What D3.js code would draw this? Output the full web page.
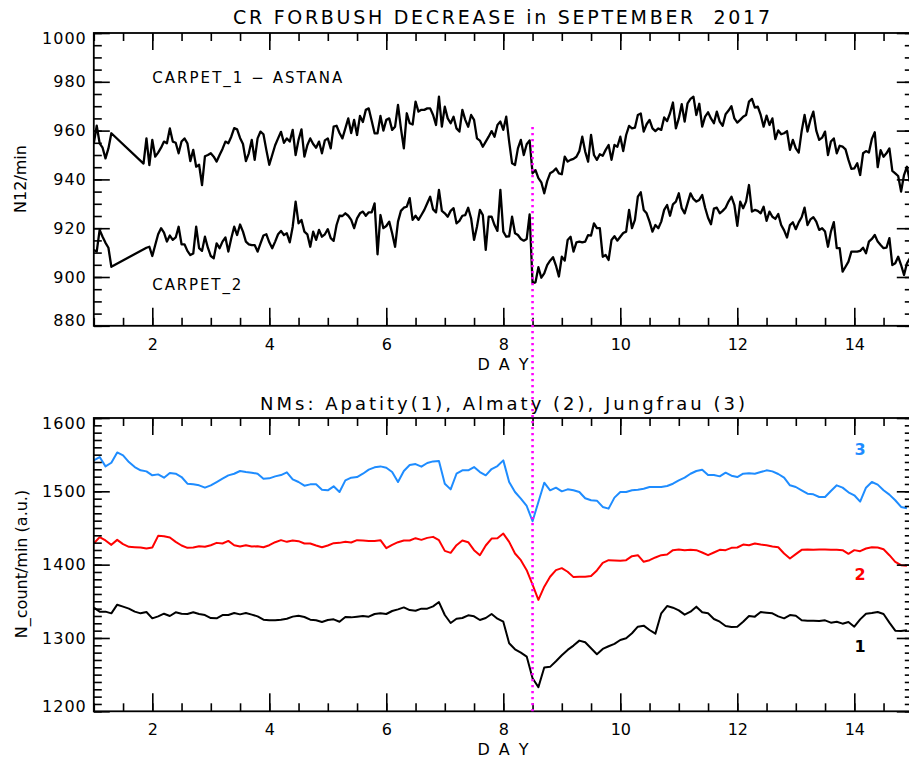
<!DOCTYPE html>
<html>
<head>
<meta charset="utf-8">
<script src="https://cdn.jsdelivr.net/npm/d3@7"></script>
<style>
  body { margin: 0; background: #fff; }
  svg text { font-family: "DejaVu Sans", sans-serif; fill: #000; }
</style>
</head>
<body>
<div id="chart"></div>
<script>
/**
 * DATA
 * carpet series: one value every 0.05 day from day 1.0, null = no data
 * NM series: one value every 0.1 day from day 1.0
 * */
const startDay = 1;
const carpetStep = 0.05;
const nmStep = 0.1;

const carpet1 = [
  954.8,962,954.8,953,948.6,952.7,958.9,null,null,null,
  null,null,null,null,null,null,null,946.5,956.8,945.9,
  956.2,949.3,951,953,955.5,954.8,960.9,955.5,955,950.7,
  955.5,956.8,954.8,947.5,952.1,945.2,946,937.7,949.5,950,
  950.7,949.3,947.3,950,952.5,955.5,954.8,957.5,961,960.5,
  957,954.5,947.5,950.7,956.2,948,956.8,959.6,958.5,952,
  946,950,954,956.8,959.5,955,956.8,955.5,960.3,950,
  956.2,960.5,949.3,954,956.8,954.5,953,955.5,950.7,956,
  956.8,952.7,961.6,962,959,956.8,960.9,965,959,964.4,
  958.2,966,963.5,968.5,969.1,964,958.9,958.9,966,960,
  964.4,965,960.3,961.6,970.5,960.9,952.7,967.1,963,962.5,
  971.9,967.8,968.5,968.5,969.1,969.1,966.4,962.3,973.9,961.6,
  969.8,965,963,965.7,960.9,959.6,968.5,964.4,961.6,966.4,
  964.4,956.8,955.9,953.4,955.5,957.5,959.8,957.5,962.3,963.7,
  960.3,965.7,955.5,946.6,945.9,952.7,956.2,950,954.4,956,
  942.5,943.8,940.5,938.8,934.3,939.3,942.5,943.2,944.5,942.5,
  942.1,949.3,947.3,948,948.4,949.3,951.6,957.5,951.4,947.3,
  958.2,950,948,950.3,949.7,952.1,954.1,948,954.1,953.4,
  957.5,951.6,958.2,961.9,960.9,961.2,966.4,967,959.6,962.6,
  964.4,960.9,959.8,960.9,960.3,965.4,963.9,967.1,971.5,960.9,
  965,970.8,963.7,971.2,973,973.9,966.4,971,961.6,965.7,
  967.5,965,963,967.8,963.7,962,966.7,968.2,970,965,
  963.3,964.4,965.7,966.4,971.9,973,969.4,969.8,966.4,961.6,
  966.1,962.3,965,956.5,960.1,958.5,958.9,959.8,952.1,956.2,
  952.7,951,959.8,966.4,959.6,964.4,967.8,960,956.2,957.1,
  959.6,950,955.5,956.8,950.7,953.8,953.4,952.3,948,944.3,
  944.5,946.6,941.8,950.7,951.6,951,956.6,959.3,945,952,
  949.3,950.7,952.7,943.5,942.5,941.4,935,941.8,945.2,939
];

const carpet2 = [
  911.1,910.4,919.3,916.5,914,912,904.2,null,null,null,
  null,null,null,null,null,null,null,null,912,912.4,
  908.6,913.1,917.5,920,918.2,914.5,917,915.2,916.2,920.6,
  913.4,913.4,910.7,909,909.6,920.6,911.8,910.7,916.5,912,
  908.6,907.7,913.8,911.8,914.5,916.2,910.4,915.9,920.6,917.2,
  921.5,918.6,914.5,913.4,913.1,913.1,910.4,913.8,917,917.5,
  914.2,911.8,914.5,917.5,918.9,917.2,917.9,914.2,920.6,930.9,
  922,923.4,918.6,917.5,912.4,918.6,915.2,919.3,916.5,917.5,
  919.6,915.9,914.8,921.3,925.1,925,926.1,925.1,923.4,920,
  924,926.1,926.8,925.1,926.5,926.5,930.2,909.3,925.4,920,
  920.9,922.7,917.9,912.4,922.7,927.1,928.4,928.8,932.3,923.4,
  925.1,923.4,925.4,927.5,930.2,932.9,927.7,926.5,935.7,927.1,
  926.1,924.7,927.1,928.2,922,923,925.1,925.4,928.4,924,
  915.2,920.6,927.5,925.4,911.1,924.7,924.7,921.3,918.9,935.7,
  918.6,916.5,916.7,924.7,917.9,917.2,915.6,914.9,915.6,925.7,
  897.5,897.8,904,899.7,901.5,904.9,906.7,908.1,904.7,900.2,
  908.3,906.7,915.2,916.5,910.4,914.2,914.5,914.2,914.5,917.2,
  917,922,920,920,908.3,909,907,915.2,916.7,914.9,
  916.5,918,918.6,927.5,920,923.4,932.9,934.7,927.5,926.1,
  922.7,918.6,921.3,920,922.7,927.5,929.5,925.1,929.8,930.9,
  934.3,928.2,926.1,930.2,934.3,932,930.9,931.6,933.6,928.4,
  924.3,921.6,928,928.4,926.1,927.1,928.4,930.9,932.9,929.5,
  921,930.9,928.2,930.9,937.7,926.8,927.5,927.1,926.1,928.8,
  923,926.8,924.7,923.8,925.8,921.3,919.1,916.2,921.3,922.4,
  919.6,922.4,924.5,928.4,921.3,923.6,924.5,922.7,919.3,920,
  918.6,912.4,918.6,922.5,911.8,911.8,902.2,904.2,906.3,910.4,
  910.4,910.4,910.7,912,909.7,914.5,915.6,917.2,914.5,913.1,
  911.8,912,915.9,904.9,905.6,908.3,904.9,900.8,905.6,907.7
];

// Jungfrau (3)
const jungfrau = [
  1542.2,1546.7,1534,1539,1553,1549,1539.9,1533.1,1528.6,1527.2,
  1521.8,1523.1,1518.6,1525,1524,1519.5,1510.4,1509.5,1508.2,1505,
  1508.2,1512.7,1517.2,1521.8,1524,1527.7,1526.3,1525.4,1524,1517.2,
  1517.7,1520.4,1522.2,1525.9,1516.3,1512.7,1507.7,1509.5,1509.5,1502.3,
  1501.4,1506.8,1499.1,1515,1518.6,1519.5,1524,1529.5,1532.7,1534,
  1532.2,1526.3,1512.7,1527.7,1535.8,1537.2,1533.6,1538.6,1540.8,1541.3,
  1510.4,1502.7,1524,1528.6,1528.6,1533.1,1526.3,1521.8,1530.4,1534.5,
  1542.2,1512.7,1499.1,1490,1480,1459.2,1485.5,1511.8,1501.4,1505,
  1500,1502.7,1501.4,1499.1,1490.5,1487.8,1487.3,1478.7,1476.4,1491.4,
  1499.1,1499.1,1501.4,1502.3,1503.6,1505.9,1505.9,1505.9,1507.3,1510.4,
  1515,1518.6,1524,1527.7,1529.5,1522.2,1522.2,1520.4,1525.4,1521.3,
  1519.5,1524,1524.5,1524,1526.3,1528.6,1527.2,1523.6,1518.6,1508.2,
  1505.9,1501.4,1496.8,1495.9,1492.3,1492.3,1500.5,1508.2,1505,1498.7,
  1494.6,1486,1505,1512.7,1509.1,1501.4,1495.5,1487.8,1478.7,1476.9
];

// Almaty (2)
const almaty = [
  1428.8,1437.5,1433,1427,1433.8,1428,1424.3,1423.8,1423.4,1422,
  1423.4,1439.3,1438.8,1437,1431.1,1426.1,1422.9,1423.4,1425.2,1424.3,
  1426.5,1429.7,1428.8,1432.4,1426.5,1424.7,1426.5,1424.7,1425.2,1423.8,
  1426.5,1430.6,1433.4,1431.1,1433,1432,1428.8,1428.8,1426.1,1423.8,
  1426.1,1429.3,1429.7,1431.1,1430.2,1433.4,1433,1432.4,1432.4,1433.4,
  1422.5,1427,1430.6,1433,1433,1436.1,1433.8,1436.5,1437.9,1433.4,
  1418.8,1416.1,1426.5,1433,1430.6,1419.8,1412.9,1426.1,1435.6,1436.1,
  1442.4,1431.1,1415.2,1406.1,1392.5,1372.6,1352,1370,1383.5,1392.5,
  1395.2,1390.3,1383,1383.5,1383.5,1384.4,1392.1,1402.5,1406.1,1405.7,
  1405.2,1406.1,1411.6,1412.9,1403.9,1406.1,1409.8,1412.9,1413.8,1419.8,
  1420.6,1419.8,1420.2,1419.8,1416.6,1412.9,1416.6,1420.2,1419.8,1422.9,
  1423.4,1427.4,1426.5,1428.8,1427.4,1426.5,1424.7,1423.8,1415.2,1408.4,
  1414.3,1420.2,1420.6,1420.2,1420.6,1420.6,1420.2,1420.2,1419.8,1414.8,
  1419.8,1418.4,1422,1423.8,1423.4,1421.1,1412.9,1403.9,1399.3,1398.4
];

// Apatity (1)
const apatity = [
  1341.3,1335.9,1335.9,1333.6,1345.4,1342.7,1340,1335.9,1333.6,1335.4,
  1326.8,1329.5,1333.1,1330,1335,1333.1,1332.7,1335,1332.7,1331.3,
  1327.2,1326.8,1331.3,1331.3,1334,1332.2,1334,1331.8,1329.5,1325,
  1324.1,1324.1,1325,1326.3,1329.1,1330.4,1328.6,1325,1324.1,1321.8,
  1324.5,1325.4,1322.2,1328.6,1328.1,1329.1,1330,1329.1,1332.7,1333.6,
  1332.7,1336.8,1339,1341.7,1338.1,1337.2,1340,1340,1343.1,1349,
  1331.3,1320.4,1326.3,1327.2,1330.9,1329.5,1324.5,1327.2,1332.7,1326.3,
  1322.2,1292.8,1284.6,1280.1,1274.6,1245,1233,1259.7,1260.6,1268.3,
  1276.4,1283.7,1289.6,1296.4,1294.1,1286,1277.8,1285.1,1288.7,1291.9,
  1297.3,1299.6,1306.4,1315.4,1316.8,1310.9,1305.9,1333.6,1343.6,1341.3,
  1337.7,1331.8,1335.9,1342.7,1335,1333.6,1325.9,1322.2,1316.3,1314.9,
  1315.4,1322.2,1330,1329.1,1335.4,1334.5,1333.6,1329.5,1326.8,1331.3,
  1330.4,1324.1,1323.6,1323.6,1323.1,1324.1,1320.9,1322.2,1319.5,1321.8,
  1315.4,1325.4,1333.1,1334,1335.4,1332.7,1320.9,1310,1309.5,1310.4
];

const xMajorTicks = [2, 4, 6, 8, 10, 12, 14];
const xMinorTicks = d3.range(1, 15.01, 0.5);
const topYTicks = [880, 900, 920, 940, 960, 980, 1000];
const topYMinor = d3.range(880, 1000.1, 5);
const botYTicks = [1200, 1300, 1400, 1500, 1600];
const botYMinor = d3.range(1200, 1600.1, 10);
const eventDay = 8.5;

/**
 * LAYOUT
 * */
const width = 909, height = 760;
const plotLeft = 93.8, plotRight = 912.8;
const topPanel = { top: 33, bottom: 325.8 };
const botPanel = { top: 418, bottom: 711.3 };

const svg = d3.select("#chart").append("svg")
  .attr("width", width)
  .attr("height", height);

const xScale = d3.scaleLinear().domain([1, 15]).range([plotLeft, plotRight]);
const yTop = d3.scaleLinear().domain([880, 1000]).range([topPanel.bottom, topPanel.top]);
const yBot = d3.scaleLinear().domain([1200, 1600]).range([botPanel.bottom, botPanel.top]);

const toPoints = (arr, step) => arr
  .map((v, i) => ({ day: startDay + i * step, v }))
  .filter(d => d.v !== null);

// draws the IDL style box: ticks on all four sides, labels on left and bottom
function drawFrame(panel, yScale, yMajor, yMinor, fmtY) {
  const g = svg.append("g");
  const noLabel = () => "";

  // left
  g.append("g").attr("transform", `translate(${plotLeft},0)`)
    .call(d3.axisLeft(yScale).tickValues(yMinor).tickSize(-8).tickFormat(noLabel));
  const left = g.append("g").attr("transform", `translate(${plotLeft},0)`)
    .call(d3.axisLeft(yScale).tickValues(yMajor).tickSize(-16).tickPadding(7).tickFormat(fmtY));
  left.selectAll("text")
    .style("font-size", "16px")
    .style("letter-spacing", "1px")
    .attr("transform", d => d === yScale.domain()[1] ? "translate(0,5)" : d === yScale.domain()[0] ? "translate(0,-5)" : null);

  // right
  g.append("g").attr("transform", `translate(${plotRight},0)`)
    .call(d3.axisRight(yScale).tickValues(yMinor).tickSize(-8).tickFormat(noLabel));
  g.append("g").attr("transform", `translate(${plotRight},0)`)
    .call(d3.axisRight(yScale).tickValues(yMajor).tickSize(-16).tickFormat(noLabel));

  // bottom
  g.append("g").attr("transform", `translate(0,${panel.bottom})`)
    .call(d3.axisBottom(xScale).tickValues(xMinorTicks).tickSize(-8).tickFormat(noLabel));
  g.append("g").attr("transform", `translate(0,${panel.bottom})`)
    .call(d3.axisBottom(xScale).tickValues(xMajorTicks).tickSize(-18).tickPadding(12.5).tickFormat(d3.format("d")))
    .selectAll("text").style("font-size", "16px");

  // top
  g.append("g").attr("transform", `translate(0,${panel.top})`)
    .call(d3.axisTop(xScale).tickValues(xMinorTicks).tickSize(-8).tickFormat(noLabel));
  g.append("g").attr("transform", `translate(0,${panel.top})`)
    .call(d3.axisTop(xScale).tickValues(xMajorTicks).tickSize(-17).tickFormat(noLabel));

  g.selectAll(".domain").remove();
  g.selectAll(".tick line").attr("stroke", "#000").attr("stroke-width", 1.6);

  g.append("rect")
    .attr("x", plotLeft).attr("y", panel.top)
    .attr("width", plotRight - plotLeft).attr("height", panel.bottom - panel.top)
    .attr("fill", "none").attr("stroke", "#000").attr("stroke-width", 1.8);
}

// clip paths for the data lines
const defs = svg.append("defs");
[["clipTop", topPanel], ["clipBot", botPanel]].forEach(([id, p]) => {
  defs.append("clipPath").attr("id", id).append("rect")
    .attr("x", plotLeft).attr("y", p.top)
    .attr("width", plotRight - plotLeft).attr("height", p.bottom - p.top);
});

/**
 * TOP PANEL: CARPET
 * */
const lineTop = d3.line().x(d => xScale(d.day)).y(d => yTop(d.v));
const topLines = svg.append("g").attr("clip-path", "url(#clipTop)");
[carpet1, carpet2].forEach(series => {
  topLines.append("path")
    .datum(toPoints(series, carpetStep))
    .attr("d", lineTop)
    .attr("fill", "none")
    .attr("stroke", "#000")
    .attr("stroke-width", 2.3)
    .attr("stroke-linejoin", "round");
});

drawFrame(topPanel, yTop, topYTicks, topYMinor, d3.format("d"));

/**
 * BOTTOM PANEL: NEUTRON MONITORS
 * */
const lineBot = d3.line().x(d => xScale(d.day)).y(d => yBot(d.v));
const botLines = svg.append("g").attr("clip-path", "url(#clipBot)");
const nmSeries = [
  { values: jungfrau, color: "#1e8cff", label: "3", at: 1549.5 },
  { values: almaty, color: "#ff0000", label: "2", at: 1379 },
  { values: apatity, color: "#000000", label: "1", at: 1281 }
];
nmSeries.forEach(s => {
  botLines.append("path")
    .datum(toPoints(s.values, nmStep))
    .attr("d", lineBot)
    .attr("fill", "none")
    .attr("stroke", s.color)
    .attr("stroke-width", 2)
    .attr("stroke-linejoin", "round");
  svg.append("text")
    .attr("x", xScale(14.1))
    .attr("y", yBot(s.at))
    .attr("text-anchor", "middle")
    .style("font-size", "16px")
    .style("font-weight", "bold")
    .style("fill", s.color)
    .text(s.label);
});

drawFrame(botPanel, yBot, botYTicks, botYMinor, d3.format("d"));

// event marker: dotted magenta line across both panels
svg.append("line")
  .attr("x1", xScale(eventDay)).attr("x2", xScale(eventDay))
  .attr("y1", yTop(961.5)).attr("y2", botPanel.bottom)
  .attr("stroke", "#ff00ff")
  .attr("stroke-width", 2.6)
  .attr("stroke-dasharray", "2.2,3.8");

/**
 * TEXT
 * */
svg.append("text")
  .attr("x", 233).attr("y", 24)
  .attr("textLength", 537).attr("lengthAdjust", "spacing")
  .attr("xml:space", "preserve")
  .style("white-space", "pre")
  .style("font-size", "19px")
  .text("CR FORBUSH DECREASE in SEPTEMBER  2017");

svg.append("text")
  .attr("x", 260).attr("y", 410)
  .attr("textLength", 485).attr("lengthAdjust", "spacing")
  .style("font-size", "18px")
  .text("NMs: Apatity(1), Almaty (2), Jungfrau (3)");

svg.append("text")
  .attr("x", xScale(2)).attr("y", yTop(979.6))
  .attr("textLength", 190).attr("lengthAdjust", "spacing")
  .style("font-size", "15px")
  .text("CARPET_1 \u2212 ASTANA");

svg.append("text")
  .attr("x", xScale(2)).attr("y", yTop(894.7))
  .attr("textLength", 89).attr("lengthAdjust", "spacing")
  .style("font-size", "15px")
  .text("CARPET_2");

[369.5, 755].forEach(y => {
  svg.append("text")
    .attr("x", 504).attr("y", y)
    .attr("text-anchor", "middle")
    .style("font-size", "16px")
    .style("letter-spacing", "2px")
    .text("D A Y");
});

svg.append("text")
  .attr("transform", "translate(25.5,179) rotate(-90)")
  .attr("text-anchor", "middle")
  .style("font-size", "16px")
  .text("N12/min");

svg.append("text")
  .attr("transform", "translate(27,564) rotate(-90)")
  .attr("text-anchor", "middle")
  .style("font-size", "16px")
  .text("N_count/min (a.u.)");
</script>
</body>
</html>
